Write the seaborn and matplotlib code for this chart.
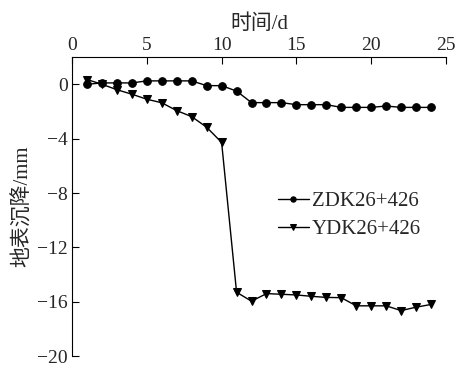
import pandas as pd
import matplotlib
matplotlib.use("Agg")
import matplotlib.pyplot as plt
import seaborn as sns

# 数据
days = list(range(1, 25))
zdk = [0, 0.1, 0.1, 0.1, 0.25, 0.25, 0.25, 0.25, -0.1, -0.1, -0.5, -1.35,
       -1.35, -1.35, -1.5, -1.5, -1.5, -1.7, -1.7, -1.7, -1.6, -1.7, -1.7, -1.7]
ydk = [0.35, 0.0, -0.4, -0.73, -1.1, -1.36, -1.94, -2.38, -3.16, -4.28, -15.3, -15.96,
       -15.4, -15.45, -15.5, -15.6, -15.68, -15.7, -16.3, -16.3, -16.3, -16.65, -16.4, -16.2]
labels = ["ZDK26+426", "YDK26+426"]
xticks = [0, 5, 10, 15, 20, 25]
yticks = [0, -4, -8, -12, -16, -20]

df = pd.concat([
    pd.DataFrame({"day": days, "value": zdk, "name": labels[0]}),
    pd.DataFrame({"day": days, "value": ydk, "name": labels[1]}),
])

sns.set_style("white")
plt.rcParams["font.family"] = ["Liberation Serif", "Noto Sans CJK SC"]
plt.rcParams["axes.unicode_minus"] = True

fig = plt.figure(figsize=(4.56, 3.66), dpi=100)
ax = fig.add_axes([0.158, 0.027, 0.820, 0.817])

sns.lineplot(data=df, x="day", y="value", hue="name", style="name",
             markers={labels[0]: "o", labels[1]: "v"}, dashes=False,
             palette={labels[0]: "black", labels[1]: "black"},
             markersize=5.5, linewidth=1.0, markeredgecolor="black", ax=ax)

ax.set_xlim(0, 25)
ax.set_ylim(-20, 2)
ax.set_xticks(xticks)
ax.set_yticks(yticks)
ax.set_yticklabels(["0", "\u22124", "\u22128", "\u221212", "\u221216", "\u221220"])
ax.xaxis.tick_top()
ax.xaxis.set_label_position("top")
ax.tick_params(axis="x", top=True, bottom=False, direction="in", length=5,
               width=0.8, labelsize=14, pad=2, color="black")
ax.tick_params(axis="y", left=True, right=False, direction="in", length=5,
               width=0.8, labelsize=14, pad=3, color="black")

for s in ["right", "bottom"]:
    ax.spines[s].set_visible(False)
for s in ["left", "top"]:
    ax.spines[s].set_color("black")
    ax.spines[s].set_linewidth(0.8)

ax.set_xlabel("时间/d", fontsize=15, labelpad=6)
ax.set_ylabel("地表沉降/mm", fontsize=15, labelpad=3)

leg = ax.legend(loc="center left", bbox_to_anchor=(0.50, 0.47), frameon=False,
                fontsize=15, handlelength=1.5, handletextpad=0.15, markerscale=0.7,
                labelspacing=0.4)

fig.savefig("out.png", dpi=100)
